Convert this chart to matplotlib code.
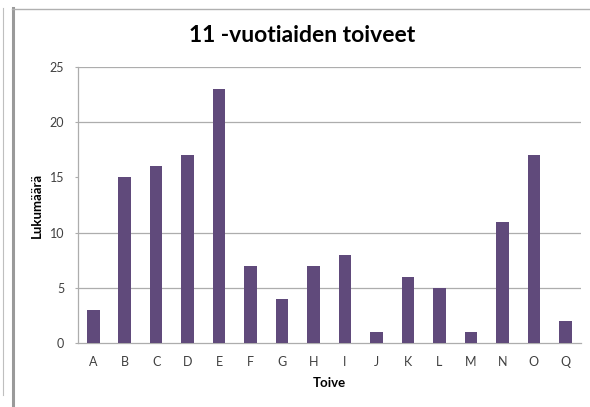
import matplotlib.pyplot as plt
from matplotlib.lines import Line2D

# Chart data
categories = ['A', 'B', 'C', 'D', 'E', 'F', 'G', 'H', 'I', 'J', 'K', 'L', 'M', 'N', 'O', 'Q']
counts = [3, 15, 16, 17, 23, 7, 4, 7, 8, 1, 6, 5, 1, 11, 17, 2]
y_ticks = [0, 5, 10, 15, 20, 25]
grid_levels = [5, 10, 20, 25]

W, H = 590, 407
fig = plt.figure(figsize=(W / 100, H / 100), dpi=100)
plt.rcParams['font.family'] = ['Lato', 'DejaVu Sans']

# Plot area in pixel coordinates
left, right, top, bottom = 77.5, 581, 67, 343
ax = fig.add_axes([left / W, 1 - bottom / H, (right - left) / W, (bottom - top) / H])

x = list(range(len(categories)))
ax.bar(x, counts, width=0.4, color='#604A7B', zorder=3)

ax.set_xlim(-0.5, len(categories) - 0.5)
ax.set_ylim(0, 25)
ax.set_yticks(y_ticks)
ax.set_xticks(x)
ax.set_xticklabels(categories)

for g in grid_levels:
    ax.axhline(g, color='#adadad', linewidth=0.9, zorder=1)

for side in ['top', 'right']:
    ax.spines[side].set_visible(False)
for side in ['left', 'bottom']:
    ax.spines[side].set_color('#adadad')
    ax.spines[side].set_linewidth(0.9)

ax.tick_params(axis='y', length=2.5, color='#adadad', labelsize=9, labelcolor='#404040', pad=7)
ax.tick_params(axis='x', length=0, labelsize=9, labelcolor='#404040', pad=9)

ax.set_xlabel('Toive', fontsize=9.5, fontweight='bold', labelpad=7)
ax.set_ylabel('Lukumäärä', fontsize=9.5, fontweight='bold', labelpad=5)

fig.text(302 / W, 1 - 35 / H, '11 -vuotiaiden toiveet', fontsize=16.5,
         ha='center', va='center', fontweight='bold')

# Chart frame lines
fig.add_artist(Line2D([3 / W, 3 / W], [1 - 8 / H, 1 - 395 / H], color='#bfbfbf', linewidth=0.8))
fig.add_artist(Line2D([12.5 / W, 12.5 / W], [1 - 8 / H, 0], color='#9a9a9a', linewidth=2.2))
fig.add_artist(Line2D([12 / W, 1], [1 - 8.5 / H, 1 - 8.5 / H], color='#b0b0b0', linewidth=1.0))

fig.savefig('out.png', dpi=100)
